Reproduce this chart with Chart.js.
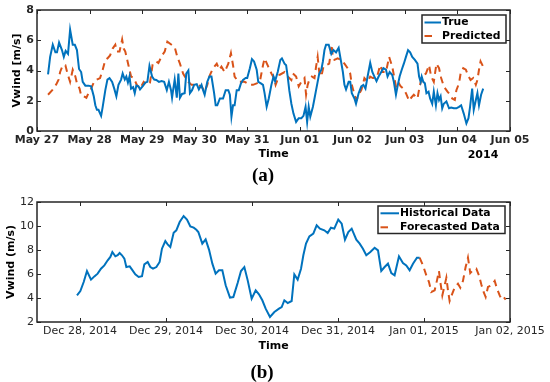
<!DOCTYPE html>
<html><head><meta charset="utf-8">
<script src="https://cdn.jsdelivr.net/npm/chart.js@4.4.1/dist/chart.umd.min.js"></script>
<style>
html,body{margin:0;padding:0;background:#fff;}
#wrap{position:relative;width:550px;height:382px;overflow:hidden;background:#fff;}
#c1{position:absolute;left:0;top:0;width:550px;height:190px;}
#c2{position:absolute;left:0;top:190px;width:550px;height:192px;}
</style></head><body>
<div id="wrap"><canvas id="c1" width="550" height="190"></canvas><canvas id="c2" width="550" height="192"></canvas></div>
<script>
// ---------- (a) data: days since May 27, 2014 00:00 ----------
const topTickLabels = ['May 27','May 28','May 29','May 30','May 31','Jun 01','Jun 02','Jun 03','Jun 04','Jun 05'];
const trueDays = [0.21,0.25,0.30,0.35,0.38,0.42,0.475,0.51,0.545,0.59,0.63,0.68,0.72,0.76,0.80,0.84,0.87,0.92,0.98,1.03,1.08,1.11,1.14,1.17,1.22,1.25,1.30,1.34,1.38,1.43,1.47,1.51,1.55,1.60,1.63,1.67,1.70,1.73,1.76,1.79,1.83,1.86,1.89,1.93,1.96,2.02,2.06,2.10,2.14,2.19,2.23,
2.27,2.32,2.37,2.42,2.47,2.51,2.55,2.57,2.59,2.62,2.66,2.69,2.72,2.76,2.81,2.84,2.88,2.91,2.95,2.99,3.04,3.08,3.13,3.16,3.19,3.24,3.28,3.32,3.37,3.40,3.43,3.48,3.54,3.59,3.64,3.67,3.70,3.73,3.76,3.80,3.84,3.88,3.92,3.97,4.00,4.05,4.09,4.13,4.18,4.21,4.26,4.30,4.33,4.37,4.41,4.46,4.50,
4.53,4.58,4.63,4.66,4.71,4.74,4.77,4.80,4.84,4.88,4.93,4.98,5.03,5.07,5.11,5.14,5.17,5.20,5.25,5.28,5.31,5.34,5.37,5.41,5.44,5.47,5.50,5.55,5.60,5.64,5.69,5.74,5.77,5.82,5.85,5.88,5.93,5.96,5.99,6.04,6.07,6.12,6.17,6.21,6.25,6.29,6.34,6.38,6.42,6.46,6.50,6.55,6.59,6.64,6.67,6.71,
6.76,6.79,6.83,6.86,6.90,6.94,6.98,7.02,7.06,7.10,7.14,7.19,7.24,7.27,7.30,7.32,7.35,7.38,7.41,7.45,7.48,7.52,7.55,7.59,7.62,7.65,7.68,7.71,7.74,7.79,7.84,7.88,7.93,7.98,8.03,8.07,8.12,8.17,8.21,8.24,8.28,8.31,8.35,8.38,8.41,8.45,8.49];
const trueValues = [3.74,4.9,5.7,5.2,5.2,5.85,5.35,4.9,5.3,5.1,6.7,5.7,5.7,5.35,4.1,3.9,3.25,3.0,3.0,2.95,2.3,1.7,1.4,1.4,1.0,1.6,2.7,3.4,3.5,3.25,2.8,2.3,3.05,3.4,3.8,3.4,3.6,3.2,3.6,2.8,2.9,2.5,3.0,2.95,2.75,3.0,3.2,3.25,4.3,3.6,3.4,
3.37,3.25,3.3,3.25,2.7,3.25,2.7,2.2,2.7,3.4,2.2,3.8,2.2,2.45,2.5,3.8,4.0,2.5,2.7,3.05,3.1,2.75,3.05,2.7,2.4,3.25,3.6,3.6,2.5,1.7,1.7,2.15,2.15,2.7,2.7,2.4,0.95,1.7,1.7,2.7,2.7,3.15,3.37,3.5,3.5,4.15,4.75,4.6,4.05,3.25,3.15,3.05,2.5,1.6,2.15,3.05,3.6,
3.3,3.9,4.7,4.8,4.45,4.35,3.6,2.7,1.8,1.15,0.6,0.85,0.85,1.0,1.6,0.6,1.6,0.95,1.6,2.15,2.7,3.25,3.8,4.05,4.6,5.35,5.7,5.7,5.1,5.35,5.2,5.5,4.9,3.9,3.05,2.75,3.25,3.25,2.5,2.15,1.8,2.5,2.95,3.05,2.8,3.6,4.5,3.9,3.6,3.3,3.6,3.9,4.15,4.05,3.6,3.9,
3.7,3.25,2.4,2.95,3.6,4.05,4.45,4.9,5.35,5.2,4.9,4.7,4.45,3.6,3.25,3.6,3.25,3.15,2.5,2.6,2.15,1.8,2.6,1.7,2.5,2.05,2.3,1.5,1.8,1.95,1.5,1.55,1.5,1.5,1.6,1.7,1.15,0.5,0.85,1.6,2.8,1.4,2.05,2.5,1.7,2.4,2.8];
const predDays = [0.21,0.29,0.37,0.41,0.44,0.49,0.54,0.58,0.63,0.68,0.73,0.76,0.81,0.84,0.89,0.94,0.98,1.03,1.08,1.14,1.20,1.25,1.30,1.34,1.39,1.44,1.49,1.52,1.57,1.62,1.65,1.68,1.71,1.74,1.79,1.84,1.90,1.96,2.03,2.09,2.15,2.20,
2.27,2.31,2.38,2.43,2.48,2.56,2.62,2.67,2.72,2.78,2.83,2.88,2.94,3.04,3.13,3.19,3.24,3.29,3.35,3.42,3.47,3.51,3.57,3.64,3.69,3.73,3.76,3.83,3.88,3.95,4.05,4.11,4.18,4.24,4.27,4.30,4.33,4.40,4.46,4.51,
4.54,4.61,4.71,4.77,4.84,4.87,4.93,4.98,5.03,5.09,5.12,5.15,5.18,5.23,5.28,5.31,5.34,5.37,5.41,5.45,5.50,5.56,5.61,5.63,5.66,5.72,5.79,5.85,5.91,5.96,5.99,6.04,6.08,6.12,6.17,6.20,6.23,6.29,6.34,6.39,6.44,6.48,6.53,6.58,6.64,6.70,
6.76,6.83,6.87,6.92,6.97,7.02,7.08,7.12,7.17,7.24,7.28,7.33,7.40,7.46,7.50,7.55,7.60,7.65,7.69,7.74,7.81,7.86,7.90,7.95,7.98,8.03,8.06,8.11,8.16,8.20,8.25,8.30,8.35,8.38,8.41,8.44,8.49];
const predValues = [2.4,2.7,3.1,3.4,3.9,4.35,4.35,3.8,3.25,4.05,3.6,3.15,2.8,2.35,2.3,2.2,2.5,2.8,3.2,3.4,3.5,4.05,4.7,4.8,5.0,5.45,5.7,5.25,5.25,6.05,5.45,5.25,4.8,4.35,3.6,3.5,3.05,2.8,3.25,3.05,3.2,4.4,
4.6,4.5,5.0,5.25,5.9,5.7,5.55,4.9,4.45,3.8,3.5,3.25,3.05,3.05,2.95,2.6,3.05,3.7,4.15,4.45,4.05,4.25,3.9,4.45,5.15,4.35,3.6,3.25,3.25,3.25,3.05,3.05,3.15,3.25,3.8,4.35,4.8,4.25,3.8,3.5,
3.05,3.7,3.9,3.6,3.37,3.8,3.6,2.95,3.25,3.5,2.4,3.05,3.37,3.6,3.5,4.25,4.9,3.9,3.6,4.25,4.35,4.45,5.7,4.8,4.7,4.8,4.7,4.45,4.15,3.8,3.05,2.4,2.05,2.4,2.7,3.05,3.5,3.25,3.6,3.5,3.5,3.7,4.35,3.9,3.9,4.9,
4.25,2.95,3.25,2.95,2.8,2.5,2.0,2.2,2.4,2.15,2.95,3.6,3.8,4.35,3.6,3.25,4.45,4.15,3.5,2.95,2.6,2.4,2.15,2.05,2.7,3.15,3.8,4.15,4.05,3.7,3.37,3.5,3.05,3.37,4.05,4.6,4.25];
const topYTicks = [0,2,4,6,8];

// ---------- (b) data: days since Dec 28, 2014 00:00 ----------
const botTickLabels = ['Dec 28, 2014','Dec 29, 2014','Dec 30, 2014','Dec 31, 2014','Jan 01, 2015','Jan 02, 2015'];
const histDays = [-0.035,0.004,0.043,0.081,0.128,0.167,0.205,0.244,0.283,0.322,0.353,0.376,0.411,0.438,0.461,0.488,0.516,0.539,0.578,0.605,0.643,0.682,0.721,0.748,0.787,0.818,0.849,0.888,0.926,0.953,0.992,1.019,1.05,1.089,1.12,1.159,1.205,1.244,1.283,1.322,1.353,1.376,1.422,1.461,1.5,1.539,1.577,1.616,1.655,1.694,1.744,1.783,1.833,1.872,1.911,1.95,1.996,2.043,2.081,2.12,2.159,2.209,2.26,2.314,2.345,2.376,2.415,2.461,2.492,2.531,2.57,2.597,2.628,2.667,2.713,2.752,2.79,2.841,2.88,2.918,2.957,3.003,3.043,3.081,3.12,3.159,3.213,3.252,3.29,3.329,3.376,3.426,3.465,3.503,3.542,3.581,3.62,3.658,3.709,3.755,3.794,3.833,3.872,3.918,3.949];
const histValues = [4.22,4.58,5.33,6.25,5.53,5.8,6.03,6.44,6.72,7.14,7.42,7.83,7.47,7.56,7.75,7.56,7.28,6.58,6.64,6.36,5.97,5.75,5.81,6.8,7.0,6.58,6.44,6.58,7.0,8.11,8.75,8.47,8.25,9.44,9.64,10.33,10.83,10.53,9.97,9.86,9.69,9.5,8.53,8.89,8.03,6.86,6.03,6.31,6.31,5.06,4.03,4.08,5.25,6.25,6.58,5.47,3.94,4.64,4.31,3.81,3.11,2.42,2.83,3.11,3.25,3.81,3.58,3.75,5.97,5.53,6.44,7.56,8.53,9.14,9.36,10.06,9.78,9.64,9.42,9.86,9.78,10.53,10.19,8.86,9.5,9.78,8.86,8.53,8.11,7.56,7.83,8.19,7.97,6.25,6.58,6.86,6.08,5.89,7.47,6.92,6.72,6.31,6.86,7.36,7.36];
const fcDays = [3.949,3.988,4.027,4.058,4.085,4.124,4.151,4.174,4.19,4.213,4.24,4.26,4.279,4.298,4.329,4.356,4.395,4.422,4.453,4.484,4.511,4.538,4.57,4.608,4.639,4.666,4.693,4.717,4.744,4.783,4.822,4.849,4.88,4.899,4.926,4.95];
const fcValues = [7.36,6.72,5.89,5.33,4.5,4.64,5.47,6.25,5.33,4.22,5.06,5.69,4.64,3.75,4.36,4.86,5.19,4.86,5.42,6.58,7.36,6.08,6.31,6.44,5.89,5.14,4.5,4.08,4.92,5.06,5.42,4.78,4.22,3.94,4.08,3.86];
const botYTicks = [2,4,6,8,10,12];

// ---------- styling ----------
const BLUE = '#0072BD', ORANGE = '#D95319', AXIS = '#262626';
const pts = (xs, ys) => xs.map((x, i) => ({x, y: ys[i]}));

function framePlugin(cfg) {
  return {
    id: 'frame' + cfg.name,
    afterDatasetsDraw(chart) {
      const {ctx, chartArea: a, scales: {x, y}} = chart;
      ctx.save();
      ctx.strokeStyle = AXIS;
      ctx.lineWidth = 1;
      ctx.beginPath();
      const L = 4;
      x.ticks.forEach(t => {
        const px = Math.round(x.getPixelForValue(t.value)) + 0.5;
        ctx.moveTo(px, a.bottom); ctx.lineTo(px, a.bottom - L);
        ctx.moveTo(px, a.top); ctx.lineTo(px, a.top + L);
      });
      y.ticks.forEach(t => {
        const py = Math.round(y.getPixelForValue(t.value)) + 0.5;
        ctx.moveTo(a.left, py); ctx.lineTo(a.left + L, py);
        ctx.moveTo(a.right, py); ctx.lineTo(a.right - L, py);
      });
      ctx.stroke();
      ctx.lineWidth = 1.5;
      ctx.strokeRect(a.left, a.top, a.right - a.left, a.bottom - a.top);
      // legend
      const g = cfg.legend;
      ctx.fillStyle = '#fff';
      ctx.fillRect(g.x, g.y, g.w, g.h);
      ctx.strokeStyle = AXIS; ctx.lineWidth = 1.5;
      ctx.strokeRect(g.x, g.y, g.w, g.h);
      ctx.font = 'bold 10.8px "DejaVu Sans"';
      ctx.textBaseline = 'middle'; ctx.textAlign = 'left';
      chart.data.datasets.forEach((ds, i) => {
        const ly = g.y + g.row0 + i * g.rowH;
        ctx.strokeStyle = ds.borderColor; ctx.lineWidth = 2;
        ctx.setLineDash(ds.borderDash ? [7.5, 20] : []);
        ctx.beginPath(); ctx.moveTo(g.x + 2.5, ly); ctx.lineTo(g.x + g.lineW, ly); ctx.stroke();
        ctx.setLineDash([]);
        ctx.fillStyle = '#000';
        ctx.fillText(ds.label, g.x + g.textX, ly);
      });
      // extra texts
      ctx.fillStyle = '#000';
      (cfg.texts || []).forEach(t => {
        ctx.font = t.font; ctx.textAlign = 'center'; ctx.textBaseline = t.base || 'middle';
        ctx.fillText(t.text, t.x, t.y);
      });
      ctx.restore();
    }
  };
}

function makeChart(id, c) {
  return new Chart(document.getElementById(id), {
    type: 'line',
    data: {datasets: c.datasets},
    options: {
      responsive: false, animation: false, devicePixelRatio: 1,
      layout: {padding: {left: 0, right: 40, top: c.top, bottom: 0}},
      plugins: {legend: {display: false}, tooltip: {enabled: false}},
      elements: {point: {radius: 0}, line: {tension: 0, borderWidth: 2}},
      scales: {
        x: {
          type: 'linear', min: c.xmin, max: c.xmax,
          afterBuildTicks: s => { s.ticks = c.xTicks.map(v => ({value: v})); },
          afterFit: s => { s.height = c.xH; },
          grid: {display: false, drawTicks: false}, border: {display: false},
          ticks: {autoSkip: false, maxRotation: 0, minRotation: 0, padding: 3, color: '#262626',
            font: c.xFont, callback: v => c.xLabels[c.xTicks.indexOf(v)] },
          title: {display: true, text: 'Time', color: '#000', font: {family: 'DejaVu Sans', size: 11, weight: 'bold'},
            padding: {top: 0, bottom: c.xTitlePad}}
        },
        y: {
          type: 'linear', min: c.ymin, max: c.ymax,
          afterBuildTicks: s => { s.ticks = c.yTicks.map(v => ({value: v})); },
          afterFit: s => { s.width = 37; },
          grid: {display: false, drawTicks: false}, border: {display: false},
          ticks: {padding: 3, color: '#262626', font: c.yFont},
          title: {display: true, text: c.yTitle, color: '#000', font: {family: 'DejaVu Sans', size: 11, weight: 'bold'},
            padding: {top: c.yTitlePad, bottom: 0}}
        }
      }
    },
    plugins: [framePlugin(c)]
  });
}

const topDayTicks = topTickLabels.map((_, i) => i);
makeChart('c1', {
  name: 'a', top: 10, xH: 59, xTitlePad: 29, yTitlePad: 11,
  xmin: 0, xmax: 9, xTicks: topDayTicks, xLabels: topTickLabels,
  ymin: 0, ymax: 8, yTicks: topYTicks, yTitle: 'Vwind [m/s]',
  xFont: {family: 'DejaVu Sans', size: 11, weight: 'bold'},
  yFont: {family: 'DejaVu Sans', size: 11, weight: 'bold'},
  datasets: [
    {label: 'True', data: pts(trueDays, trueValues), borderColor: BLUE, borderWidth: 2},
    {label: 'Predicted', data: pts(predDays, predValues), borderColor: ORANGE, borderWidth: 2, borderDash: [7, 5]}
  ],
  legend: {x: 422, y: 15, w: 84, h: 28, row0: 7.5, rowH: 13.5, lineW: 19, textX: 20},
  texts: [
    {text: '2014', x: 483, y: 155, font: 'bold 11px "DejaVu Sans"'},
    {text: '(a)', x: 263, y: 181, base: 'alphabetic', font: 'bold 19px "Liberation Serif"'}
  ]
});

const botDayTicks = botTickLabels.map((_, i) => i);
makeChart('c2', {
  name: 'b', top: 12, xH: 60, xTitlePad: 29.5, yTitlePad: 5,
  xmin: -0.5, xmax: 5, xTicks: botDayTicks, xLabels: botTickLabels,
  ymin: 2, ymax: 12, yTicks: botYTicks, yTitle: 'Vwind (m/s)',
  xFont: {family: 'DejaVu Sans', size: 11},
  yFont: {family: 'DejaVu Sans', size: 11},
  datasets: [
    {label: 'Historical Data', data: pts(histDays, histValues), borderColor: BLUE, borderWidth: 2},
    {label: 'Forecasted Data', data: pts(fcDays, fcValues), borderColor: ORANGE, borderWidth: 2, borderDash: [7, 5]}
  ],
  legend: {x: 378, y: 16, w: 127, h: 27.5, row0: 7.3, rowH: 14, lineW: 21, textX: 22},
  texts: [
    {text: '(b)', x: 262, y: 188, base: 'alphabetic', font: 'bold 19px "Liberation Serif"'}
  ]
});
</script>
</body></html>
